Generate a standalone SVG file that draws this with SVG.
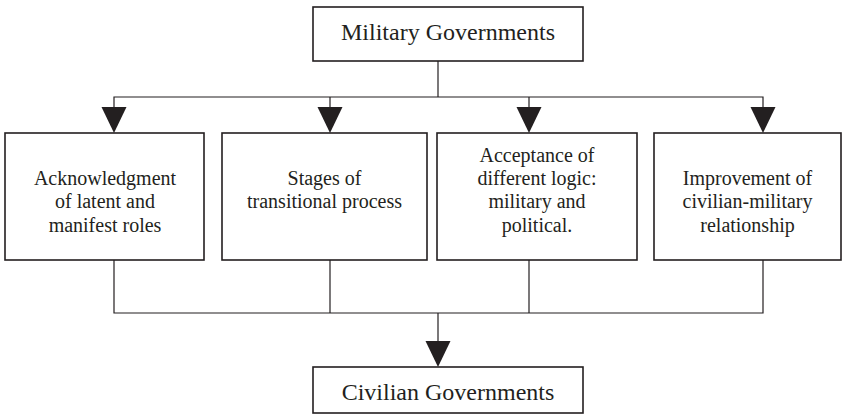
<svg xmlns="http://www.w3.org/2000/svg" width="847" height="418" viewBox="0 0 847 418">
<defs>
<style>
.box{fill:#fff;stroke:#231f20;stroke-width:1.6}
.ln{fill:none;stroke:#231f20;stroke-width:1.2}
.ah{fill:#231f20}
text{font-family:"Liberation Serif","Times New Roman",serif;fill:#231f20;text-anchor:middle}
.big{font-size:24px}
.sm{font-size:20px}
</style>
</defs>
<rect width="847" height="418" fill="#fff"/>
<g id="connectors">
<polyline class="ln" points="438,61 438,97"/>
<polyline class="ln" points="114,107 114,97 763,97 763,107"/>
<line class="ln" x1="330" y1="97" x2="330" y2="107"/>
<line class="ln" x1="529" y1="97" x2="529" y2="107"/>
<polygon class="ah" points="101.5,107 126.5,107 114,133"/>
<polygon class="ah" points="317.5,107 342.5,107 330,133"/>
<polygon class="ah" points="516.5,107 541.5,107 529,133"/>
<polygon class="ah" points="750.5,107 775.5,107 763,133"/>
<polyline class="ln" points="114,260 114,313 763,313 763,260"/>
<line class="ln" x1="330" y1="260" x2="330" y2="313"/>
<line class="ln" x1="529" y1="260" x2="529" y2="313"/>
<line class="ln" x1="438" y1="313" x2="438" y2="341"/>
<polygon class="ah" points="425.5,341 450.5,341 438,367"/>
</g>
<g id="military">
<rect class="box" x="313" y="7" width="270" height="54"/>
<text class="big" x="448" y="40">Military Governments</text>
</g>
<g id="ack">
<rect class="box" x="5" y="133" width="199" height="127"/>
<text class="sm" x="105" y="185">Acknowledgment</text>
<text class="sm" x="105" y="208">of latent and</text>
<text class="sm" x="105" y="232">manifest roles</text>
</g>
<g id="stages">
<rect class="box" x="222" y="133" width="205" height="127"/>
<text class="sm" x="324.5" y="185">Stages of</text>
<text class="sm" x="324.5" y="208">transitional process</text>
</g>
<g id="acceptance">
<rect class="box" x="437" y="133" width="200" height="127"/>
<text class="sm" x="537" y="162">Acceptance of</text>
<text class="sm" x="537" y="185">different logic:</text>
<text class="sm" x="537" y="208">military and</text>
<text class="sm" x="537" y="232">political.</text>
</g>
<g id="improvement">
<rect class="box" x="654" y="133" width="187" height="127"/>
<text class="sm" x="747.5" y="185">Improvement of</text>
<text class="sm" x="747.5" y="208">civilian-military</text>
<text class="sm" x="747.5" y="232">relationship</text>
</g>
<g id="civilian">
<rect class="box" x="313" y="367" width="270" height="46"/>
<text class="big" x="448" y="400">Civilian Governments</text>
</g>
</svg>
